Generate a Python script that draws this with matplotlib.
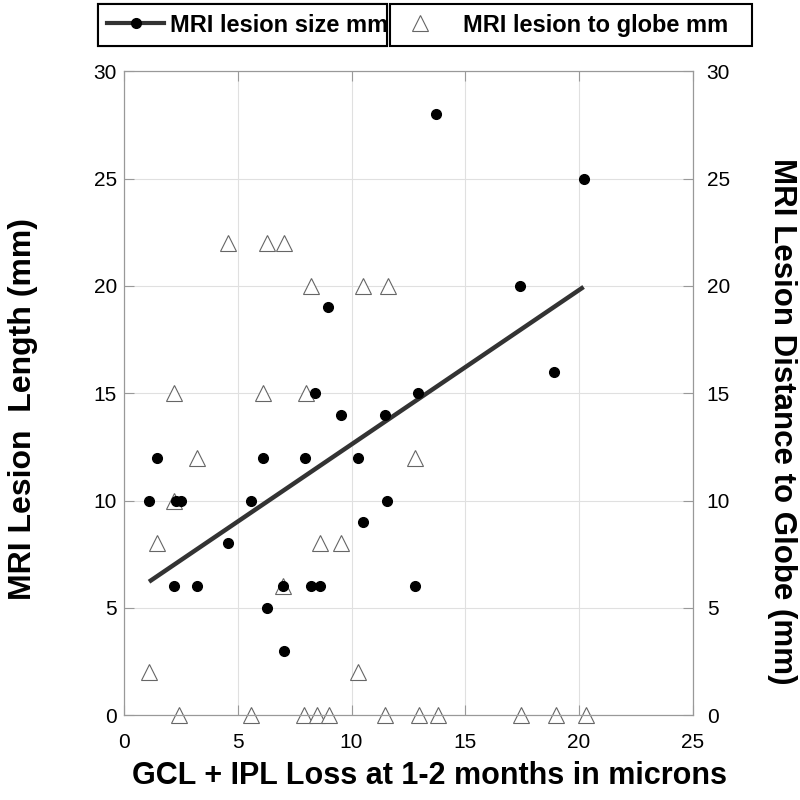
import numpy as np
import matplotlib.pyplot as plt

# GCL + IPL loss (microns) and MRI lesion size (mm)
size_x = [1.1, 1.45, 2.2, 2.3, 2.5, 3.2, 4.55, 5.6, 6.1, 6.3, 7.0, 7.05, 7.95, 8.2, 8.4,
          8.6, 8.95, 9.55, 10.3, 10.5, 11.45, 11.55, 12.8, 12.9, 13.7, 17.4, 18.9, 20.2]
size_y = [10, 12, 6, 10, 10, 6, 8, 10, 12, 5, 6, 3, 12, 6, 15,
          6, 19, 14, 12, 9, 14, 10, 6, 15, 28, 20, 16, 25]

# GCL + IPL loss (microns) and MRI lesion distance to globe (mm)
globe_x = [1.1, 1.45, 2.2, 2.2, 2.4, 3.2, 4.55, 5.6, 6.1, 6.3, 7.05, 7.0, 7.9, 8.0, 8.2,
           8.5, 8.6, 9.0, 9.55, 10.3, 10.5, 11.45, 11.6, 12.8, 12.95, 13.8, 17.45, 19.0, 20.3]
globe_y = [2, 8, 15, 10, 0, 12, 22, 0, 15, 22, 22, 6, 0, 15, 20,
           0, 8, 0, 8, 2, 20, 0, 20, 12, 0, 0, 0, 0, 0]

ticks_x = [0, 5, 10, 15, 20, 25]
ticks_y = [0, 5, 10, 15, 20, 25, 30]

plt.rcParams['font.family'] = ['Liberation Sans', 'DejaVu Sans']

fig = plt.figure(figsize=(8, 8), dpi=100)
ax = fig.add_axes([0.155, 0.106, 0.711, 0.805])

# linear fit of lesion size
slope, intercept = np.polyfit(size_x, size_y, 1)
fit_x = np.array([min(size_x), max(size_x)])
ax.plot(fit_x, slope * fit_x + intercept, color='#333333', lw=3.2,
        solid_capstyle='butt', zorder=3)
ax.plot(size_x, size_y, 'o', color='black', ms=7, zorder=4)
tri, = ax.plot(globe_x, globe_y, '^', mfc='white', mec='#666666', mew=0.8,
               ms=12, zorder=2, clip_on=False)

ax.set_xlim(0, 25)
ax.set_ylim(0, 30)
ax.set_xticks(ticks_x)
ax.set_yticks(ticks_y)
ax.grid(True, color='#e0e0e0', lw=0.8)
ax.set_axisbelow(True)
ax.tick_params(direction='in', length=7, color='#999999', labelsize=15, top=True)
ax.tick_params(axis='x', pad=13)
ax.tick_params(axis='y', pad=5)
for s in ax.spines.values():
    s.set_color('#999999')

ax2 = ax.twinx()
ax2.set_ylim(0, 30)
ax2.set_yticks(ticks_y)
ax2.tick_params(direction='in', length=7, color='#999999', labelsize=15, pad=10)
for s in ax2.spines.values():
    s.set_color('#999999')

ax.set_xlabel('GCL + IPL Loss at 1-2 months in microns', fontsize=22,
              fontweight='bold', va='center')
ax.xaxis.set_label_coords(0.537, 0.03, transform=fig.transFigure)
ax.set_ylabel('MRI Lesion  Length (mm)', fontsize=23, fontweight='bold', va='center')
ax.yaxis.set_label_coords(0.029, 0.489, transform=fig.transFigure)
ax2.set_ylabel('MRI Lesion Distance to Globe (mm)', fontsize=22.5, fontweight='bold',
               rotation=-90, va='center')
ax2.yaxis.set_label_coords(0.978, 0.474, transform=fig.transFigure)

# two separate legend boxes above the plot
size_handle = plt.Line2D([], [], color='#333333', lw=3, marker='o', ms=7, mfc='black', mec='black')
leg1 = fig.legend([size_handle], ['MRI lesion size mm'], loc='center left',
                  bbox_to_anchor=(0.1225, 0.941, 0.3615, 0.055), mode='expand',
                  fancybox=False, edgecolor='black', framealpha=1, borderaxespad=0,
                  prop={'weight': 'bold', 'size': 17}, handlelength=2.4, handletextpad=0.25)
leg1.get_frame().set_linewidth(1.5)
fig.add_artist(leg1)
leg2 = fig.legend([tri], ['MRI lesion to globe mm'], loc='center left',
                  bbox_to_anchor=(0.4875, 0.941, 0.4525, 0.055), mode='expand',
                  fancybox=False, edgecolor='black', framealpha=1, borderaxespad=0,
                  prop={'weight': 'bold', 'size': 17}, handlelength=1.7, handletextpad=1.0)
leg2.get_frame().set_linewidth(1.5)

fig.savefig('out.png', dpi=100)
